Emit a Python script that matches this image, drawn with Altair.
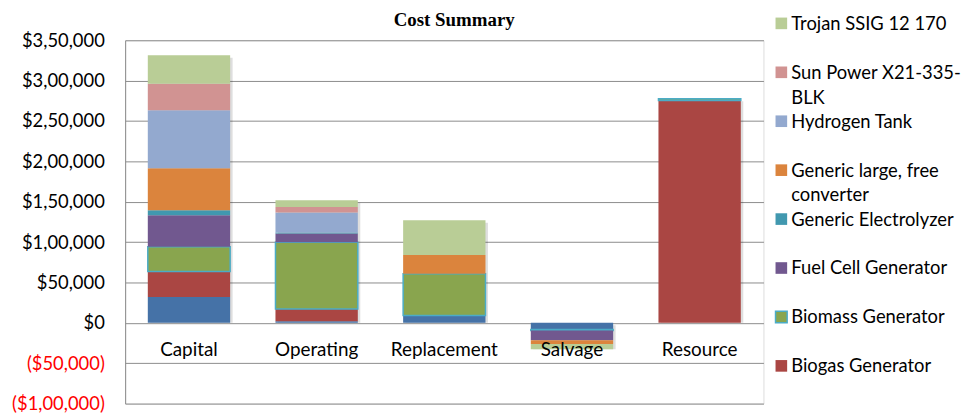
import altair as alt
import pandas as pd

# ---------------- data ----------------
categories = ["Capital", "Operating", "Replacement", "Salvage", "Resource"]

# series in stacking order (bottom -> top)
series_names = [
    "Generic 10 kW",  # bottom blue series (legend entry cut off in the original)
    "Biogas Generator",
    "Biomass Generator",
    "Fuel Cell Generator",
    "Generic Electrolyzer",
    "Generic large, free converter",
    "Hydrogen Tank",
    "Sun Power X21-335-BLK",
    "Trojan SSIG 12 170",
]
generic_vals = [32000, 2000, 9000, -7600, 0]
biogas_vals = [31500, 15300, 0, -500, 275500]
biomass_vals = [30800, 82400, 51700, -1500, 2000]
fuelcell_vals = [39000, 11100, 0, -12000, 0]
electrolyzer_vals = [6200, 1200, 0, 0, 0]
converter_vals = [52000, 0, 23400, -4500, 0]
h2tank_vals = [71800, 24600, 0, 0, 0]
sunpower_vals = [32700, 6900, 0, 0, 0]
trojan_vals = [35300, 8200, 43100, -6500, 0]
series_values = [generic_vals, biogas_vals, biomass_vals, fuelcell_vals,
                 electrolyzer_vals, converter_vals, h2tank_vals,
                 sunpower_vals, trojan_vals]

series_colors = ["#4572A7", "#AA4643", "#89A54E", "#71588F", "#4198AF",
                 "#DB843D", "#93A9CF", "#D19392", "#B9CD96"]

tick_values = [-100000, -50000, 0, 50000, 100000, 150000, 200000,
               250000, 300000, 350000]
tick_labels = ["($1,00,000)", "($50,000)", "$0", "$50,000", "$1,00,000",
               "$1,50,000", "$2,00,000", "$2,50,000", "$3,00,000", "$3,50,000"]

legend_names = ["Trojan SSIG 12 170", "Sun Power X21-335-BLK", "Hydrogen Tank",
                "Generic large, free converter", "Generic Electrolyzer",
                "Fuel Cell Generator", "Biomass Generator", "Biogas Generator"]
legend_labels = ["Trojan SSIG 12 170", "Sun Power X21-335-\nBLK", "Hydrogen Tank",
                 "Generic large, free\nconverter", "Generic Electrolyzer",
                 "Fuel Cell Generator", "Biomass Generator", "Biogas Generator"]

# ---------------- tables ----------------
rows = []
for i, (name, vals) in enumerate(zip(series_names, series_values)):
    for cat, v in zip(categories, vals):
        rows.append({"category": cat, "series": name, "value": v, "idx": i})
df = pd.DataFrame(rows)
cat_df = pd.DataFrame({"category": categories})
leg_df = pd.DataFrame({"series": legend_names, "label": legend_labels})

vals_js = "[" + ",".join(str(v) for v in tick_values) + "]"
labs_js = "[" + ",".join("'" + l + "'" for l in tick_labels) + "]"
label_expr = (f"{labs_js}[indexof({vals_js}, datum.value)]"
              " + (datum.value < 0 ? '' : '\u00a0')")

FONT = "Lato"
GRID = "#8c8c8c"
BORDER = "#4BACC6"

color_scale = alt.Scale(domain=series_names, range=series_colors)
stroke_cond = alt.condition("datum.series === 'Biomass Generator'",
                            alt.value(BORDER), alt.value("transparent"))

x_enc = alt.X("category:N", sort=categories,
              scale=alt.Scale(paddingInner=0.355, paddingOuter=0.1775),
              axis=None)

y_scale = alt.Scale(domain=[-100000, 350000], nice=False, zero=False)

# soft drop shadow behind each stacked column
shadow = alt.Chart(df).transform_calculate(
    pos="max(datum.value, 0)", neg="min(datum.value, 0)"
).transform_aggregate(
    top="sum(pos)", bottom="sum(neg)", groupby=["category"]
).mark_bar(color="#000000", opacity=0.13, xOffset=2.5, yOffset=2.5).encode(
    x=x_enc,
    y=alt.Y("top:Q", scale=y_scale),
    y2="bottom:Q",
)

bars = alt.Chart(df).mark_bar(strokeWidth=1.5).encode(
    x=x_enc,
    y=alt.Y("value:Q", stack="zero", scale=y_scale,
            axis=alt.Axis(values=tick_values, labelExpr=label_expr, title=None,
                          grid=True, gridColor=GRID, gridWidth=1,
                          domainColor=GRID, domainWidth=1, ticks=False,
                          labelFont=FONT, labelFontSize=18.5, labelPadding=21,
                          labelColor=alt.condition("datum.value < 0",
                                                   alt.value("#FF0000"),
                                                   alt.value("#000000")))),
    color=alt.Color("series:N", scale=color_scale, legend=None),
    order=alt.Order("idx:Q", sort="ascending"),
    stroke=stroke_cond,
)

cat_text = alt.Chart(cat_df).mark_text(
    font=FONT, fontSize=19, baseline="middle", dy=27.7, color="#000000"
).encode(
    x=alt.X("category:N", sort=categories),
    y=alt.datum(0),
    text="category:N",
)

leg_y = alt.Y("series:N", sort=legend_names,
              scale=alt.Scale(type="point", domain=legend_names,
                              range=[-17, 328], padding=0),
              axis=None)

leg_sq = alt.Chart(leg_df).mark_square(size=137, opacity=1, strokeWidth=1.5).encode(
    x=alt.value(661),
    y=leg_y,
    color=alt.Color("series:N", scale=color_scale, legend=None),
    stroke=stroke_cond,
)

leg_txt = alt.Chart(leg_df).mark_text(
    align="left", baseline="alphabetic", dy=6.5, font=FONT, fontSize=18.5,
    lineBreak="\n", lineHeight=25, color="#000000"
).encode(
    x=alt.value(671),
    y=leg_y,
    text="label:N",
)

main = alt.layer(shadow, bars, cat_text)
legend = alt.layer(leg_sq, leg_txt)

chart = alt.layer(main, legend).resolve_scale(y="independent").properties(
    width=643,
    height=366,
    padding={"left": 118, "top": 31, "right": 202, "bottom": 10},
    autosize=alt.AutoSizeParams(type="none"),
    title=alt.Title("Cost Summary", font="Liberation Serif", fontSize=19,
                    fontWeight="bold", offset=10, dy=25, dx=10, frame="group",
                    anchor="middle", color="#000000"),
).configure_view(stroke=None).configure(background="white")

chart.save("out.html", embed_options={"renderer": "svg", "actions": False})
